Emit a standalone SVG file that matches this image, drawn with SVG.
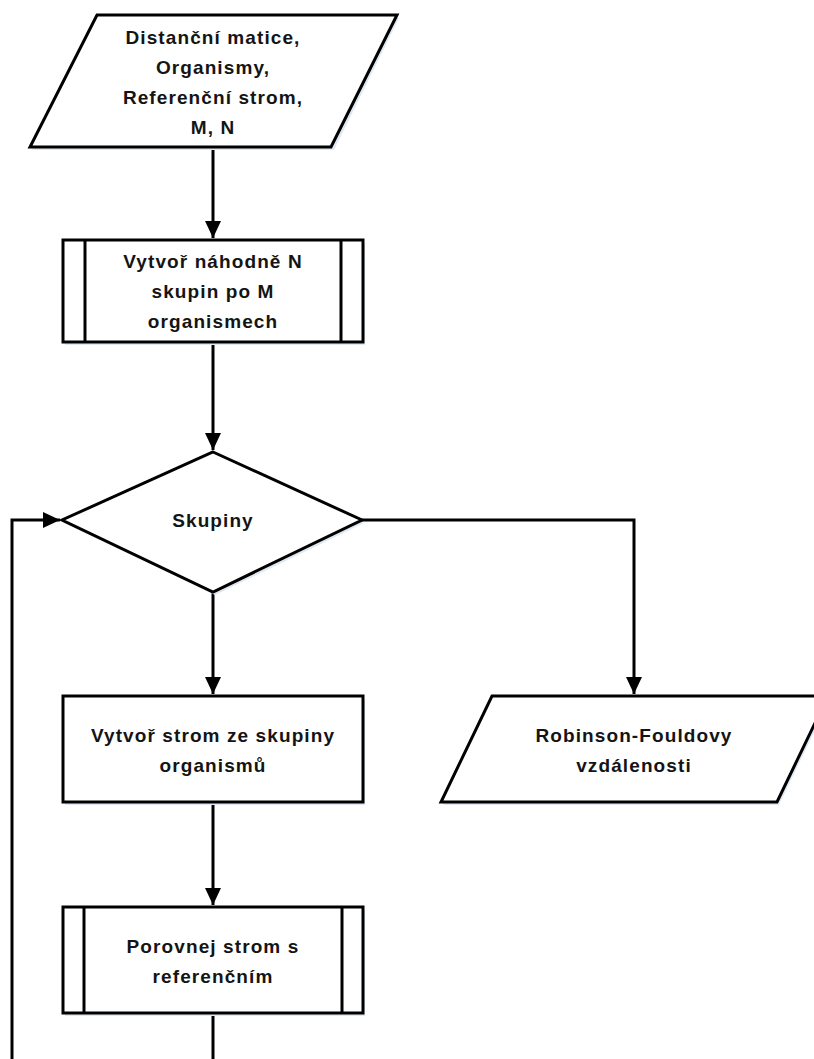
<svg xmlns="http://www.w3.org/2000/svg" width="814" height="1059" viewBox="0 0 814 1059">
<style>
.shape{fill:#ffffff;stroke:#000000;stroke-width:3;stroke-linejoin:miter}
.shadow{fill:#dfe8f3;stroke:none}
.inner{stroke:#000000;stroke-width:3;fill:none}
.conn{fill:none;stroke:#000000;stroke-width:3}
.lbl{font-family:"Liberation Sans",Arial,sans-serif;font-size:19px;font-weight:bold;fill:#141414;text-anchor:middle;letter-spacing:1.1px}
</style>
<defs>
<marker id="arr" markerUnits="userSpaceOnUse" markerWidth="18" markerHeight="16" refX="17" refY="8" orient="auto">
<path d="M0,0 L17,8 L0,16 Z" fill="#000000"/>
</marker>
</defs>
<rect width="814" height="1059" fill="#ffffff"/>

<g id="connectors">
<path class="conn" d="M213,147 V238" marker-end="url(#arr)"/>
<path class="conn" d="M213,342 V450" marker-end="url(#arr)"/>
<path class="conn" d="M213,592 V694" marker-end="url(#arr)"/>
<path class="conn" d="M213,802 V905" marker-end="url(#arr)"/>
<path class="conn" d="M362,520 H634 V694" marker-end="url(#arr)"/>
<path class="conn" d="M213,1013 V1075 H12 V520 H60" marker-end="url(#arr)"/>
</g>

<g id="input">
<polygon class="shadow" points="99,18 399,18 334,150 32,150"/>
<polygon class="shape" points="97,15 397,15 331,147 30,147"/>
<text class="lbl" x="213" y="44">Distanční matice,</text>
<text class="lbl" x="213" y="74">Organismy,</text>
<text class="lbl" x="213" y="104">Referenční strom,</text>
<text class="lbl" x="213" y="134">M, N</text>
</g>

<g id="groups">
<rect class="shadow" x="65" y="243" width="300" height="102"/>
<rect class="shape" x="63" y="240" width="300" height="102"/>
<line class="inner" x1="85" y1="240" x2="85" y2="342"/>
<line class="inner" x1="341" y1="240" x2="341" y2="342"/>
<text class="lbl" x="213" y="268">Vytvoř náhodně N</text>
<text class="lbl" x="213" y="298">skupin po M</text>
<text class="lbl" x="213" y="328">organismech</text>
</g>

<g id="decision">
<polygon class="shadow" points="215,455 364,523 215,595 64,523"/>
<polygon class="shape" points="213,452 362,520 213,592 62,520"/>
<text class="lbl" x="213" y="527">Skupiny</text>
</g>

<g id="buildtree">
<rect class="shadow" x="65" y="699" width="300" height="106"/>
<rect class="shape" x="63" y="696" width="300" height="106"/>
<text class="lbl" x="213" y="742">Vytvoř strom ze skupiny</text>
<text class="lbl" x="213" y="772">organismů</text>
</g>

<g id="output">
<polygon class="shadow" points="494,699 830,699 779,805 443,805"/>
<polygon class="shape" points="492,696 828,696 777,802 441,802"/>
<text class="lbl" x="634" y="742">Robinson-Fouldovy</text>
<text class="lbl" x="634" y="772">vzdálenosti</text>
</g>

<g id="compare">
<rect class="shadow" x="65" y="910" width="300" height="106"/>
<rect class="shape" x="63" y="907" width="300" height="106"/>
<line class="inner" x1="84" y1="907" x2="84" y2="1013"/>
<line class="inner" x1="342" y1="907" x2="342" y2="1013"/>
<text class="lbl" x="213" y="953">Porovnej strom s</text>
<text class="lbl" x="213" y="983">referenčním</text>
</g>
</svg>
